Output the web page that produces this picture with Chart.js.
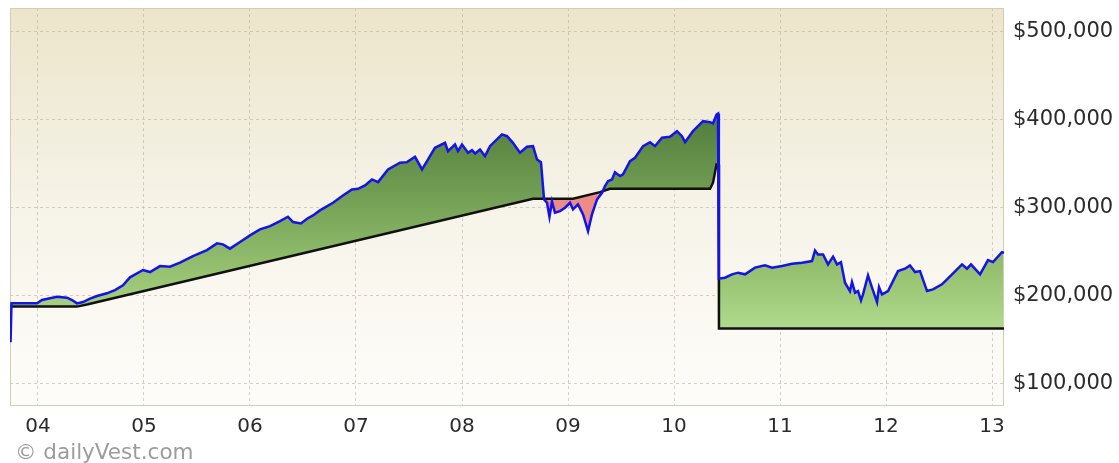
<!DOCTYPE html>
<html>
<head>
<meta charset="utf-8">
<script src="https://cdn.jsdelivr.net/npm/chart.js@4.4.0/dist/chart.umd.min.js"></script>
<style>
    html, body { margin: 0; padding: 0; background: #fff; }
    #wrap { width: 1119px; height: 463px; }
</style>
</head>
<body>
<div id="wrap"><canvas id="myChart" width="1119" height="463"></canvas></div>
<script>
// account value (blue) and invested amount (black), x = decimal year
var valueYears = [2003.741, 2003.750, 2003.991, 2004.038, 2004.179, 2004.274, 2004.321, 2004.368, 2004.425, 2004.491,
    2004.557, 2004.651, 2004.726, 2004.802, 2004.868, 2004.991, 2005.057, 2005.151, 2005.245, 2005.340,
    2005.462, 2005.594, 2005.689, 2005.745, 2005.811, 2005.906, 2006.000, 2006.094, 2006.189, 2006.283,
    2006.358, 2006.406, 2006.481, 2006.538, 2006.594, 2006.660, 2006.783, 2006.877, 2006.962, 2007.019,
    2007.085, 2007.151, 2007.208, 2007.302, 2007.415, 2007.481, 2007.557, 2007.623, 2007.670, 2007.745,
    2007.840, 2007.868, 2007.934, 2007.962, 2008.000, 2008.057, 2008.094, 2008.123, 2008.170, 2008.217,
    2008.264, 2008.377, 2008.425, 2008.481, 2008.547, 2008.613, 2008.670, 2008.708, 2008.745, 2008.774,
    2008.802, 2008.825, 2008.849, 2008.877, 2008.925, 2008.972, 2009.019, 2009.047, 2009.094, 2009.142,
    2009.189, 2009.226, 2009.274, 2009.321, 2009.349, 2009.377, 2009.415, 2009.443, 2009.491, 2009.519,
    2009.585, 2009.632, 2009.708, 2009.774, 2009.821, 2009.887, 2009.962, 2010.028, 2010.075, 2010.104,
    2010.179, 2010.274, 2010.340, 2010.368, 2010.401, 2010.415, 2010.423, 2010.481, 2010.547, 2010.604,
    2010.670, 2010.764, 2010.858, 2010.925, 2011.019, 2011.113, 2011.208, 2011.302, 2011.330, 2011.358,
    2011.406, 2011.453, 2011.500, 2011.538, 2011.575, 2011.613, 2011.660, 2011.679, 2011.708, 2011.736,
    2011.764, 2011.783, 2011.830, 2011.868, 2011.915, 2011.934, 2011.962, 2012.019, 2012.113, 2012.179,
    2012.226, 2012.274, 2012.321, 2012.387, 2012.443, 2012.528, 2012.623, 2012.717, 2012.764, 2012.802,
    2012.887, 2012.962, 2013.009, 2013.094, 2013.113];
var valueAmounts = [146600, 190900, 190900, 194700, 198500, 197400, 194700, 190900, 192400, 196200,
    199200, 202300, 206000, 211400, 220500, 228800, 226500, 233300, 232600, 237200,
    244700, 251500, 259100, 258000, 253100, 260600, 268200, 275000, 278800, 284400,
    289400, 283300, 281800, 287200, 290900, 296600, 305300, 313600, 320500, 321200,
    325000, 331800, 328800, 343200, 350800, 351500, 357600, 343200, 352600, 367800,
    373500, 364000, 371600, 364000, 371600, 362200, 365100, 361400, 365900, 358300,
    369700, 383000, 381000, 373500, 362200, 369000, 369700, 354500, 351500, 309100,
    305300, 289400, 306800, 294000, 295800, 299700, 305300, 297700, 303400, 292000,
    273100, 292000, 309100, 316700, 324200, 329900, 331800, 340100, 335600, 337500,
    352600, 356500, 369700, 374200, 369700, 379200, 380300, 386700, 381000, 374200,
    386700, 398100, 396900, 395500, 405700, 406800, 219000, 220100, 223900, 225800,
    223900, 231500, 234100, 231500, 233300, 236000, 237200, 239000, 251100, 246600,
    246600, 235200, 244000, 235200, 237800, 214400, 204900, 215100, 203100, 204900,
    194300, 201100, 222700, 208800, 192400, 209400, 201100, 204900, 227600, 230300,
    234100, 226500, 227600, 204900, 206800, 212500, 223900, 235200, 230300, 235200,
    223900, 240100, 237800, 249200, 248500];

var costYears = [2003.741, 2004.368, 2004.472, 2008.670, 2009.047, 2009.302, 2009.396, 2010.340, 2010.368, 2010.401, 2010.421, 2010.424, 2013.113];
var costAmounts = [187200, 187200, 189800, 309900, 309900, 317400, 321200, 321200, 328100, 348900, 348900, 162200, 162200];

var xTickYears = [2004, 2005, 2006, 2007, 2008, 2009, 2010, 2011, 2012, 2013];
var xTickLabels = ['04', '05', '06', '07', '08', '09', '10', '11', '12', '13'];
var yTickValues = [100000, 200000, 300000, 400000, 500000];

var valuePoints = valueYears.map(function (x, i) { return { x: x, y: valueAmounts[i] }; });
var costPoints = costYears.map(function (x, i) { return { x: x, y: costAmounts[i] }; });

function greenFill(context) {
    var chart = context.chart;
    var area = chart.chartArea;
    if (!area) return '#8fbf6a';
    var g = chart.ctx.createLinearGradient(0, area.top, 0, area.bottom);
    g.addColorStop(0, '#3f6b2e');
    g.addColorStop(0.26, '#4f7b3b');
    g.addColorStop(0.48, '#74a055');
    g.addColorStop(0.68, '#98c473');
    g.addColorStop(0.81, '#b1da8d');
    g.addColorStop(1, '#c4e6a2');
    return g;
}

var backdrop = {
    id: 'backdrop',
    beforeDraw: function (chart) {
        var ctx = chart.ctx, a = chart.chartArea;
        ctx.save();
        ctx.fillStyle = '#ffffff';
        ctx.fillRect(0, 0, chart.width, chart.height);
        var g = ctx.createLinearGradient(0, a.top, 0, a.bottom);
        g.addColorStop(0, '#ece5cb');
        g.addColorStop(0.5, '#f6f3e8');
        g.addColorStop(1, '#fefdfa');
        ctx.fillStyle = g;
        ctx.fillRect(a.left, a.top, a.right - a.left, a.bottom - a.top);
        ctx.restore();
    },
    beforeDatasetsDraw: function (chart) {
        var ctx = chart.ctx, a = chart.chartArea;
        ctx.save();
        ctx.strokeStyle = '#d2cdb8';
        ctx.lineWidth = 1;
        ctx.strokeRect(a.left + 0.5, a.top + 0.5, a.right - a.left - 1, a.bottom - a.top);
        ctx.restore();
    },
    afterDraw: function (chart) {
        var ctx = chart.ctx;
        ctx.save();
        ctx.font = '21.5px "DejaVu Sans"';
        ctx.fillStyle = '#9c9c9c';
        ctx.textBaseline = 'alphabetic';
        ctx.fillText('\u00a9 dailyVest.com', 15, 459);
        ctx.restore();
    }
};

Chart.defaults.font.family = '"DejaVu Sans", Verdana, sans-serif';
Chart.defaults.color = '#333333';

const ctx = document.getElementById('myChart').getContext('2d');
const myChart = new Chart(ctx, {
    type: 'line',
    data: {
        datasets: [{
            label: 'Account value',
            data: valuePoints,
            borderColor: '#1414e6',
            borderWidth: 2.5,
            backgroundColor: greenFill,
            fill: { target: 1, below: '#ec8c86' },
            pointRadius: 0,
            tension: 0
        }, {
            label: 'Net investment',
            data: costPoints,
            borderColor: '#111111',
            borderWidth: 2.5,
            fill: false,
            pointRadius: 0,
            tension: 0
        }]
    },
    options: {
        responsive: false,
        animation: false,
        devicePixelRatio: 1,
        layout: { padding: { left: 10, top: 8, right: 0, bottom: 0 } },
        plugins: {
            legend: { display: false },
            tooltip: { enabled: false },
            title: { display: false },
            filler: { drawTime: 'beforeDatasetsDraw' }
        },
        events: [],
        scales: {
            x: {
                type: 'linear',
                min: 2003.736,
                max: 2013.113,
                afterFit: function (scale) {
                    scale.height = 58;
                    scale.paddingLeft = 0;
                    scale.paddingRight = 0;
                },
                afterBuildTicks: function (scale) {
                    scale.ticks = xTickYears.map(function (v) { return { value: v }; });
                },
                ticks: {
                    autoSkip: false,
                    maxRotation: 0,
                    padding: 10,
                    font: { size: 20 },
                    color: '#2b2b2b',
                    callback: function (value) {
                        var i = xTickYears.indexOf(value);
                        return i >= 0 ? xTickLabels[i] : '';
                    }
                },
                grid: { color: 'rgba(185,170,145,0.55)', drawTicks: false },
                border: { display: false, dash: [3, 3] }
            },
            y: {
                position: 'right',
                min: 75300,
                max: 526800,
                afterFit: function (scale) {
                    scale.width = 115;
                    scale.paddingTop = 0;
                    scale.paddingBottom = 0;
                },
                afterBuildTicks: function (scale) {
                    scale.ticks = yTickValues.map(function (v) { return { value: v }; });
                },
                ticks: {
                    padding: 9,
                    font: { size: 21 },
                    color: '#2b2b2b',
                    callback: function (value) { return '$' + value.toLocaleString('en-US'); }
                },
                grid: { color: 'rgba(185,170,145,0.55)', drawTicks: false },
                border: { display: false, dash: [3, 3] }
            }
        }
    },
    plugins: [backdrop]
});
</script>
</body>
</html>
